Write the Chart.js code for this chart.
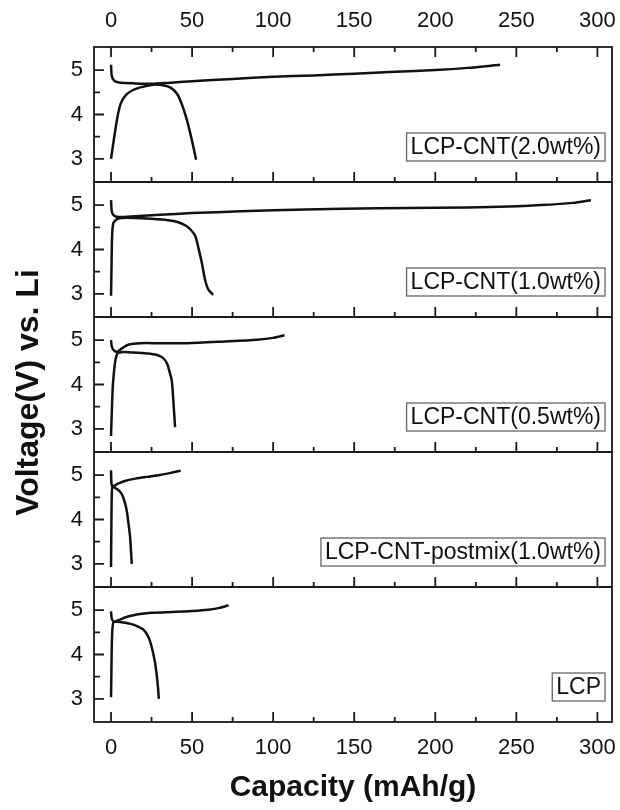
<!DOCTYPE html>
<html>
<head>
<meta charset="utf-8">
<script src="https://cdn.jsdelivr.net/npm/chart.js@4/dist/chart.umd.min.js"></script>
<style>
  body { margin: 0; background: #fff; }
  #wrap { width: 620px; height: 810px; }
</style>
</head>
<body>
<div id="wrap"><canvas id="myChart" width="620" height="810"></canvas></div>
<script>
// panel labels, top to bottom
var labels = ['LCP-CNT(2.0wt%)', 'LCP-CNT(1.0wt%)', 'LCP-CNT(0.5wt%)', 'LCP-CNT-postmix(1.0wt%)', 'LCP'];

// axis ranges and tick labels
var xMin = -10.5, xMax = 309;
var yMin = 2.48, yMax = 5.52;
var xTicks = [0, 50, 100, 150, 200, 250, 300];
var xMinor = [25, 75, 125, 175, 225, 275];
var yTicks = [3, 4, 5];
var yMinor = [3.5, 4.5];

// [capacity (mAh/g), voltage (V)]
var charge20 = [[0,5.12],[0.5,4.86],[2,4.76],[5,4.72],[15,4.70],[25,4.69],[35,4.71],[50,4.75],[75,4.80],[100,4.85],[125,4.88],[150,4.92],[175,4.96],[200,5.00],[220,5.05],[240,5.12]];
var discharge20 = [[0,3.00],[2,3.50],[4,3.95],[6,4.25],[9,4.43],[13,4.54],[18,4.61],[26,4.67],[32,4.66],[37,4.60],[41,4.45],[44,4.20],[47,3.85],[50,3.40],[52.5,2.98]];

var charge10 = [[0,5.11],[0.5,4.85],[2,4.76],[5,4.73],[15,4.75],[30,4.78],[50,4.82],[80,4.86],[120,4.90],[165,4.93],[200,4.94],[240,4.96],[265,5.00],[285,5.05],[296,5.11]];
var discharge10 = [[0,2.96],[0.3,3.60],[0.6,4.22],[1.4,4.59],[4.5,4.70],[15,4.71],[25,4.69],[35,4.66],[41,4.62],[46,4.54],[49,4.45],[52,4.30],[54,4.02],[56,3.70],[58,3.32],[60,3.10],[63,2.98]];

var charge05 = [[0,5.00],[0.5,4.85],[2,4.76],[4,4.74],[7,4.82],[11,4.90],[18,4.93],[30,4.93],[47,4.93],[70,4.97],[90,5.01],[100,5.05],[107,5.11]];
var discharge05 = [[0,2.84],[0.5,3.40],[1,3.90],[1.4,4.11],[2.5,4.50],[4,4.70],[8,4.73],[14,4.72],[22,4.70],[28,4.67],[32,4.60],[34.5,4.48],[36,4.30],[37.5,4.08],[38.5,3.60],[39.5,3.04]];

var chargePm = [[0,5.11],[0.3,4.80],[1,4.75],[4,4.80],[8,4.86],[15,4.92],[22,4.96],[30,5.00],[37,5.05],[43,5.10]];
var dischargePm = [[0,2.93],[0.2,3.80],[0.5,4.60],[1,4.74],[3,4.70],[5.5,4.63],[7.5,4.50],[9.6,4.22],[10.8,3.90],[11.7,3.63],[12.3,3.30],[12.8,3.00]];

var chargeLcp = [[0,4.97],[0.5,4.80],[2,4.74],[5,4.78],[11,4.86],[18,4.91],[25,4.94],[40,4.96],[50,4.98],[60,5.01],[67,5.05],[72.5,5.11]];
var dischargeLcp = [[0,3.04],[0.3,3.80],[0.6,4.37],[1.4,4.72],[4,4.74],[8,4.72],[12,4.69],[16,4.64],[20,4.56],[23,4.40],[25,4.18],[27,3.85],[28,3.59],[29,3.25],[29.5,3.00]];

var panelData = [
  [charge20, discharge20],
  [charge10, discharge10],
  [charge05, discharge05],
  [chargePm, dischargePm],
  [chargeLcp, dischargeLcp]
];

var FONT = "'Liberation Sans', Arial, sans-serif";
var INK = '#111';

function toPts(arr) {
  return arr.map(function (p) { return {x: p[0], y: p[1]}; });
}

var datasets = [];
panelData.forEach(function (pair, i) {
  pair.forEach(function (curve) {
    datasets.push({
      data: toPts(curve),
      yAxisID: 'y' + i,
      borderColor: INK,
      borderWidth: 2.5,
      pointRadius: 0,
      tension: 0.25,
      fill: false
    });
  });
});

function yAxis() {
  return {
    type: 'linear',
    position: 'left',
    stack: 'panels',
    stackWeight: 1,
    min: yMin,
    max: yMax,
    afterBuildTicks: function (s) { s.ticks = yTicks.map(function (v) { return {value: v}; }); },
    afterFit: function (s) { s.width = 94; s.paddingTop = 0; s.paddingBottom = 0; },
    grid: {display: false, drawTicks: false},
    border: {display: false},
    ticks: {color: INK, padding: 11, font: {size: 22, family: FONT}}
  };
}

var scales = {};
// left stacked boxes are placed in reverse order, so the bottom panel goes first
for (var i = labels.length - 1; i >= 0; i--) {
  scales['y' + i] = yAxis();
}
scales.x = {
  type: 'linear',
  position: 'bottom',
  min: xMin,
  max: xMax,
  afterBuildTicks: function (s) { s.ticks = xTicks.map(function (v) { return {value: v}; }); },
  afterFit: function (s) { s.height = 88; s.paddingLeft = 0; s.paddingRight = 0; },
  grid: {display: false, drawTicks: false},
  border: {display: false},
  ticks: {color: INK, padding: 13, maxRotation: 0, font: {size: 22, family: FONT}},
  title: {display: true, text: 'Capacity (mAh/g)', color: INK, padding: {top: 0, bottom: 4}, font: {size: 30, weight: 'bold', family: FONT}}
};
scales.xTop = {
  type: 'linear',
  position: 'top',
  min: xMin,
  max: xMax,
  afterBuildTicks: function (s) { s.ticks = xTicks.map(function (v) { return {value: v}; }); },
  afterFit: function (s) { s.height = 47; s.paddingLeft = 0; s.paddingRight = 0; },
  grid: {display: false, drawTicks: false},
  border: {display: false},
  ticks: {color: INK, padding: 13, maxRotation: 0, font: {size: 22, family: FONT}}
};

// frames, inward ticks, label boxes, y title
var framePlugin = {
  id: 'frames',
  afterDraw: function (chart) {
    var ctx = chart.ctx;
    var area = chart.chartArea;
    var xs = chart.scales.x;
    ctx.save();
    ctx.strokeStyle = '#1a1a1a';
    ctx.lineWidth = 1.8;
    labels.forEach(function (lab, i) {
      var ys = chart.scales['y' + i];
      ctx.strokeRect(area.left, ys.top, area.right - area.left, ys.bottom - ys.top);
      ctx.beginPath();
      // left ticks
      yTicks.forEach(function (v) {
        var py = ys.getPixelForValue(v);
        ctx.moveTo(area.left, py); ctx.lineTo(area.left + 10, py);
      });
      yMinor.forEach(function (v) {
        var py = ys.getPixelForValue(v);
        ctx.moveTo(area.left, py); ctx.lineTo(area.left + 6, py);
      });
      // bottom ticks pointing up
      xTicks.forEach(function (v) {
        var px = xs.getPixelForValue(v);
        ctx.moveTo(px, ys.bottom); ctx.lineTo(px, ys.bottom - 10);
      });
      xMinor.forEach(function (v) {
        var px = xs.getPixelForValue(v);
        ctx.moveTo(px, ys.bottom); ctx.lineTo(px, ys.bottom - 5);
      });
      // top ticks only on the first panel
      if (i === 0) {
        xTicks.forEach(function (v) {
          var px = xs.getPixelForValue(v);
          ctx.moveTo(px, ys.top); ctx.lineTo(px, ys.top + 10);
        });
        xMinor.forEach(function (v) {
          var px = xs.getPixelForValue(v);
          ctx.moveTo(px, ys.top); ctx.lineTo(px, ys.top + 5);
        });
      }
      ctx.stroke();

      // label box
      ctx.font = '23px ' + FONT;
      var w = ctx.measureText(lab).width + 8;
      var h = 28;
      var bx = area.right - 7 - w;
      var by = ys.bottom - 21 - h;
      ctx.fillStyle = '#fff';
      ctx.fillRect(bx, by, w, h);
      ctx.lineWidth = 1.3;
      ctx.strokeStyle = '#666';
      ctx.strokeRect(bx, by, w, h);
      ctx.fillStyle = INK;
      ctx.textAlign = 'left';
      ctx.textBaseline = 'middle';
      ctx.fillText(lab, bx + 4, by + h / 2 + 1);
      ctx.strokeStyle = '#1a1a1a';
      ctx.lineWidth = 1.8;
    });

    // y axis title
    var top = chart.scales['y0'].top;
    var bottom = chart.scales['y' + (labels.length - 1)].bottom;
    ctx.translate(29, (top + bottom) / 2 + 8);
    ctx.rotate(-Math.PI / 2);
    ctx.font = 'bold 32px ' + FONT;
    ctx.fillStyle = INK;
    ctx.textAlign = 'center';
    ctx.textBaseline = 'middle';
    ctx.fillText('Voltage(V) vs. Li', 0, 0);
    ctx.restore();
  }
};

var ctx = document.getElementById('myChart').getContext('2d');
var myChart = new Chart(ctx, {
  type: 'line',
  data: {datasets: datasets},
  options: {
    responsive: false,
    animation: false,
    layout: {padding: {left: 0, right: 8, top: 0, bottom: 0}},
    plugins: {legend: {display: false}, tooltip: {enabled: false}},
    scales: scales
  },
  plugins: [framePlugin]
});
</script>
</body>
</html>
